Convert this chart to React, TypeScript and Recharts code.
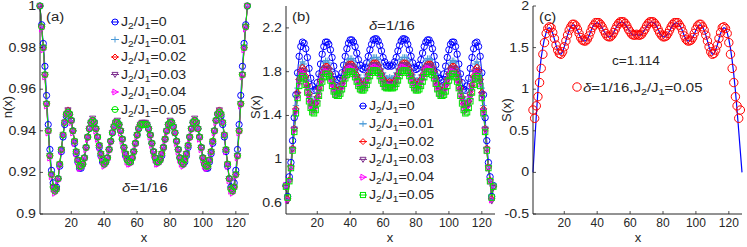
import { ComposedChart, Line, XAxis, YAxis } from 'recharts';

const FONT = '"Liberation Sans", Arial, Helvetica, sans-serif';
const INK = '#262626';

// x axis shared by all three panels
const X_DOMAIN = [1, 128];
const X_TICKS = [20, 40, 60, 80, 100, 120];
const sites = Array.from({ length: 127 }, (_, i) => i + 1);
const fitSites = Array.from({ length: 128 }, (_, i) => i + 1);

const ratioLabels = ['0', '0.01', '0.02', '0.03', '0.04', '0.05'];

// (a) n(x)
const N_DOMAIN = [0.9, 1];
const N_TICKS = [0.9, 0.92, 0.94, 0.96, 0.98, 1];

const nJ0 = [
  1.000, 0.991, 0.982, 0.971, 0.957, 0.943, 0.931, 0.921, 0.915, 0.912,
  0.913, 0.917, 0.923, 0.930, 0.937, 0.943, 0.947, 0.949, 0.948, 0.945,
  0.940, 0.934, 0.929, 0.925, 0.922, 0.922, 0.924, 0.927, 0.932, 0.937,
  0.941, 0.944, 0.945, 0.944, 0.941, 0.937, 0.932, 0.928, 0.925, 0.924,
  0.925, 0.927, 0.931, 0.935, 0.939, 0.942, 0.944, 0.944, 0.943, 0.940,
  0.936, 0.932, 0.928, 0.926, 0.925, 0.925, 0.927, 0.930, 0.934, 0.938,
  0.941, 0.943, 0.943, 0.943, 0.943, 0.943, 0.941, 0.938, 0.934, 0.930,
  0.927, 0.925, 0.925, 0.926, 0.928, 0.932, 0.936, 0.940, 0.943, 0.944,
  0.944, 0.942, 0.939, 0.935, 0.931, 0.927, 0.925, 0.924, 0.925, 0.928,
  0.932, 0.937, 0.941, 0.944, 0.945, 0.944, 0.941, 0.937, 0.932, 0.927,
  0.924, 0.922, 0.922, 0.925, 0.929, 0.934, 0.940, 0.945, 0.948, 0.949,
  0.947, 0.943, 0.937, 0.930, 0.923, 0.917, 0.913, 0.912, 0.915, 0.921,
  0.931, 0.943, 0.957, 0.971, 0.982, 0.991, 1.000,
];
const nJ1 = [
  1.000, 0.990, 0.980, 0.968, 0.954, 0.941, 0.929, 0.919, 0.913, 0.911,
  0.912, 0.917, 0.924, 0.931, 0.938, 0.944, 0.948, 0.949, 0.948, 0.945,
  0.940, 0.935, 0.930, 0.926, 0.923, 0.923, 0.924, 0.927, 0.932, 0.937,
  0.941, 0.944, 0.945, 0.944, 0.941, 0.937, 0.933, 0.929, 0.926, 0.924,
  0.925, 0.927, 0.931, 0.935, 0.939, 0.942, 0.944, 0.944, 0.943, 0.940,
  0.936, 0.932, 0.929, 0.926, 0.925, 0.925, 0.927, 0.930, 0.934, 0.938,
  0.941, 0.943, 0.943, 0.943, 0.943, 0.943, 0.941, 0.938, 0.934, 0.930,
  0.927, 0.925, 0.925, 0.926, 0.929, 0.932, 0.936, 0.940, 0.943, 0.944,
  0.944, 0.942, 0.939, 0.935, 0.931, 0.927, 0.925, 0.924, 0.926, 0.929,
  0.933, 0.937, 0.941, 0.944, 0.945, 0.944, 0.941, 0.937, 0.932, 0.927,
  0.924, 0.923, 0.923, 0.926, 0.930, 0.935, 0.940, 0.945, 0.948, 0.949,
  0.948, 0.944, 0.938, 0.931, 0.924, 0.917, 0.912, 0.911, 0.913, 0.919,
  0.929, 0.941, 0.954, 0.968, 0.980, 0.990, 1.000,
];
const nJ2 = [
  1.000, 0.990, 0.980, 0.967, 0.953, 0.940, 0.928, 0.919, 0.913, 0.911,
  0.912, 0.917, 0.924, 0.931, 0.938, 0.944, 0.948, 0.950, 0.948, 0.945,
  0.940, 0.935, 0.930, 0.926, 0.923, 0.923, 0.924, 0.927, 0.932, 0.937,
  0.941, 0.944, 0.945, 0.944, 0.941, 0.937, 0.933, 0.929, 0.926, 0.924,
  0.925, 0.927, 0.931, 0.935, 0.939, 0.942, 0.944, 0.944, 0.943, 0.940,
  0.936, 0.932, 0.929, 0.926, 0.925, 0.925, 0.927, 0.930, 0.934, 0.938,
  0.941, 0.943, 0.943, 0.943, 0.943, 0.943, 0.941, 0.938, 0.934, 0.930,
  0.927, 0.925, 0.925, 0.926, 0.929, 0.932, 0.936, 0.940, 0.943, 0.944,
  0.944, 0.942, 0.939, 0.935, 0.931, 0.927, 0.925, 0.924, 0.926, 0.929,
  0.933, 0.937, 0.941, 0.944, 0.945, 0.944, 0.941, 0.937, 0.932, 0.927,
  0.924, 0.923, 0.923, 0.926, 0.930, 0.935, 0.940, 0.945, 0.948, 0.950,
  0.948, 0.944, 0.938, 0.931, 0.924, 0.917, 0.912, 0.911, 0.913, 0.919,
  0.928, 0.940, 0.953, 0.967, 0.980, 0.990, 1.000,
];
const nJ3 = [
  1.000, 0.990, 0.980, 0.967, 0.953, 0.940, 0.928, 0.919, 0.913, 0.911,
  0.912, 0.917, 0.924, 0.931, 0.938, 0.944, 0.948, 0.950, 0.948, 0.945,
  0.940, 0.935, 0.930, 0.926, 0.923, 0.923, 0.924, 0.927, 0.932, 0.937,
  0.941, 0.944, 0.946, 0.944, 0.941, 0.937, 0.933, 0.929, 0.926, 0.924,
  0.925, 0.927, 0.931, 0.935, 0.939, 0.942, 0.944, 0.945, 0.943, 0.940,
  0.936, 0.932, 0.929, 0.926, 0.925, 0.925, 0.927, 0.930, 0.934, 0.938,
  0.941, 0.943, 0.944, 0.944, 0.944, 0.943, 0.941, 0.938, 0.934, 0.930,
  0.927, 0.925, 0.925, 0.926, 0.929, 0.932, 0.936, 0.940, 0.943, 0.945,
  0.944, 0.942, 0.939, 0.935, 0.931, 0.927, 0.925, 0.924, 0.926, 0.929,
  0.933, 0.937, 0.941, 0.944, 0.946, 0.944, 0.941, 0.937, 0.932, 0.927,
  0.924, 0.923, 0.923, 0.926, 0.930, 0.935, 0.940, 0.945, 0.948, 0.950,
  0.948, 0.944, 0.938, 0.931, 0.924, 0.917, 0.912, 0.911, 0.913, 0.919,
  0.928, 0.940, 0.953, 0.967, 0.980, 0.990, 1.000,
];
const nJ4 = [
  1.000, 0.989, 0.979, 0.966, 0.952, 0.939, 0.927, 0.918, 0.912, 0.910,
  0.911, 0.916, 0.923, 0.930, 0.938, 0.944, 0.948, 0.949, 0.948, 0.944,
  0.939, 0.934, 0.929, 0.925, 0.922, 0.922, 0.923, 0.926, 0.931, 0.936,
  0.941, 0.944, 0.945, 0.944, 0.940, 0.936, 0.932, 0.928, 0.925, 0.923,
  0.924, 0.926, 0.930, 0.934, 0.939, 0.942, 0.944, 0.944, 0.942, 0.939,
  0.935, 0.931, 0.928, 0.925, 0.924, 0.924, 0.926, 0.929, 0.933, 0.937,
  0.941, 0.943, 0.943, 0.943, 0.943, 0.943, 0.941, 0.937, 0.933, 0.929,
  0.926, 0.924, 0.924, 0.925, 0.928, 0.931, 0.935, 0.939, 0.942, 0.944,
  0.944, 0.942, 0.939, 0.934, 0.930, 0.926, 0.924, 0.923, 0.925, 0.928,
  0.932, 0.936, 0.940, 0.944, 0.945, 0.944, 0.941, 0.936, 0.931, 0.926,
  0.923, 0.922, 0.922, 0.925, 0.929, 0.934, 0.939, 0.944, 0.948, 0.949,
  0.948, 0.944, 0.938, 0.930, 0.923, 0.916, 0.911, 0.910, 0.912, 0.918,
  0.927, 0.939, 0.952, 0.966, 0.979, 0.989, 1.000,
];
const nJ5 = [
  1.000, 0.990, 0.980, 0.967, 0.953, 0.940, 0.928, 0.919, 0.913, 0.911,
  0.912, 0.917, 0.924, 0.931, 0.938, 0.944, 0.948, 0.949, 0.948, 0.945,
  0.940, 0.935, 0.930, 0.926, 0.923, 0.923, 0.924, 0.927, 0.932, 0.937,
  0.941, 0.944, 0.945, 0.944, 0.941, 0.937, 0.933, 0.929, 0.926, 0.924,
  0.925, 0.927, 0.931, 0.935, 0.939, 0.942, 0.944, 0.944, 0.943, 0.940,
  0.936, 0.932, 0.929, 0.926, 0.925, 0.925, 0.927, 0.930, 0.934, 0.938,
  0.941, 0.943, 0.943, 0.943, 0.943, 0.943, 0.941, 0.938, 0.934, 0.930,
  0.927, 0.925, 0.925, 0.926, 0.929, 0.932, 0.936, 0.940, 0.943, 0.944,
  0.944, 0.942, 0.939, 0.935, 0.931, 0.927, 0.925, 0.924, 0.926, 0.929,
  0.933, 0.937, 0.941, 0.944, 0.945, 0.944, 0.941, 0.937, 0.932, 0.927,
  0.924, 0.923, 0.923, 0.926, 0.930, 0.935, 0.940, 0.945, 0.948, 0.949,
  0.948, 0.944, 0.938, 0.931, 0.924, 0.917, 0.912, 0.911, 0.913, 0.919,
  0.928, 0.940, 0.953, 0.967, 0.980, 0.990, 1.000,
];

// (b) S(x)
const SB_DOMAIN = [0.5, 2.4];
const SB_TICKS = [0.6, 1, 1.4, 1.8, 2.2];

const sJ0 = [
  0.76, 0.66, 0.84, 0.97, 1.17, 1.38, 1.59, 1.79, 1.94, 2.03,
  2.07, 2.06, 2.01, 1.93, 1.83, 1.74, 1.67, 1.63, 1.64, 1.70,
  1.78, 1.87, 1.96, 2.03, 2.07, 2.07, 2.05, 2.00, 1.93, 1.85,
  1.78, 1.73, 1.72, 1.74, 1.79, 1.86, 1.94, 2.01, 2.06, 2.09,
  2.09, 2.07, 2.03, 1.97, 1.91, 1.86, 1.83, 1.82, 1.84, 1.88,
  1.94, 2.00, 2.05, 2.09, 2.10, 2.10, 2.08, 2.04, 1.99, 1.93,
  1.89, 1.86, 1.85, 1.86, 1.85, 1.86, 1.89, 1.93, 1.99, 2.04,
  2.08, 2.10, 2.10, 2.09, 2.05, 2.00, 1.94, 1.88, 1.84, 1.82,
  1.83, 1.86, 1.91, 1.97, 2.03, 2.07, 2.09, 2.09, 2.06, 2.01,
  1.94, 1.86, 1.79, 1.74, 1.72, 1.73, 1.78, 1.85, 1.93, 2.00,
  2.05, 2.07, 2.07, 2.03, 1.96, 1.87, 1.78, 1.70, 1.64, 1.63,
  1.67, 1.74, 1.83, 1.93, 2.01, 2.06, 2.07, 2.03, 1.94, 1.79,
  1.59, 1.38, 1.17, 0.97, 0.84, 0.66, 0.76,
];
const sJ1 = [
  0.75, 0.63, 0.81, 0.94, 1.11, 1.30, 1.49, 1.65, 1.78, 1.86,
  1.89, 1.87, 1.81, 1.73, 1.64, 1.57, 1.53, 1.52, 1.55, 1.61,
  1.69, 1.77, 1.83, 1.88, 1.90, 1.90, 1.88, 1.83, 1.78, 1.72,
  1.68, 1.66, 1.66, 1.68, 1.73, 1.78, 1.84, 1.88, 1.91, 1.92,
  1.92, 1.90, 1.86, 1.82, 1.77, 1.74, 1.72, 1.72, 1.74, 1.77,
  1.82, 1.87, 1.90, 1.93, 1.93, 1.93, 1.91, 1.87, 1.83, 1.79,
  1.76, 1.74, 1.74, 1.75, 1.74, 1.74, 1.76, 1.79, 1.83, 1.87,
  1.91, 1.93, 1.93, 1.93, 1.90, 1.87, 1.82, 1.77, 1.74, 1.72,
  1.72, 1.74, 1.77, 1.82, 1.86, 1.90, 1.92, 1.92, 1.91, 1.88,
  1.84, 1.78, 1.73, 1.68, 1.66, 1.66, 1.68, 1.72, 1.78, 1.83,
  1.88, 1.90, 1.90, 1.88, 1.83, 1.77, 1.69, 1.61, 1.55, 1.52,
  1.53, 1.57, 1.64, 1.73, 1.81, 1.87, 1.89, 1.86, 1.78, 1.65,
  1.49, 1.30, 1.11, 0.94, 0.81, 0.63, 0.75,
];
const sJ2 = [
  0.75, 0.64, 0.81, 0.93, 1.10, 1.28, 1.46, 1.61, 1.73, 1.81,
  1.84, 1.82, 1.76, 1.68, 1.60, 1.53, 1.49, 1.48, 1.51, 1.57,
  1.65, 1.72, 1.78, 1.83, 1.85, 1.85, 1.83, 1.78, 1.73, 1.68,
  1.64, 1.63, 1.63, 1.65, 1.69, 1.74, 1.80, 1.84, 1.87, 1.87,
  1.87, 1.85, 1.82, 1.77, 1.73, 1.70, 1.68, 1.68, 1.70, 1.73,
  1.78, 1.82, 1.86, 1.88, 1.88, 1.88, 1.86, 1.82, 1.78, 1.74,
  1.71, 1.70, 1.70, 1.71, 1.70, 1.70, 1.71, 1.74, 1.78, 1.82,
  1.86, 1.88, 1.88, 1.88, 1.86, 1.82, 1.78, 1.73, 1.70, 1.68,
  1.68, 1.70, 1.73, 1.77, 1.82, 1.85, 1.87, 1.87, 1.87, 1.84,
  1.80, 1.74, 1.69, 1.65, 1.63, 1.63, 1.64, 1.68, 1.73, 1.78,
  1.83, 1.85, 1.85, 1.83, 1.78, 1.72, 1.65, 1.57, 1.51, 1.48,
  1.49, 1.53, 1.60, 1.68, 1.76, 1.82, 1.84, 1.81, 1.73, 1.61,
  1.46, 1.28, 1.10, 0.93, 0.81, 0.64, 0.75,
];
const sJ3 = [
  0.74, 0.62, 0.80, 0.92, 1.09, 1.27, 1.44, 1.59, 1.71, 1.78,
  1.81, 1.79, 1.73, 1.65, 1.57, 1.51, 1.47, 1.46, 1.49, 1.55,
  1.62, 1.69, 1.76, 1.80, 1.83, 1.83, 1.81, 1.76, 1.71, 1.66,
  1.62, 1.61, 1.61, 1.63, 1.67, 1.72, 1.78, 1.82, 1.85, 1.85,
  1.85, 1.83, 1.80, 1.75, 1.71, 1.68, 1.66, 1.66, 1.68, 1.71,
  1.76, 1.80, 1.84, 1.86, 1.86, 1.86, 1.84, 1.80, 1.76, 1.72,
  1.69, 1.68, 1.68, 1.69, 1.68, 1.68, 1.69, 1.72, 1.76, 1.80,
  1.84, 1.86, 1.86, 1.86, 1.84, 1.80, 1.76, 1.71, 1.68, 1.66,
  1.66, 1.68, 1.71, 1.75, 1.80, 1.83, 1.85, 1.85, 1.85, 1.82,
  1.78, 1.72, 1.67, 1.63, 1.61, 1.61, 1.62, 1.66, 1.71, 1.76,
  1.81, 1.83, 1.83, 1.80, 1.76, 1.69, 1.62, 1.55, 1.49, 1.46,
  1.47, 1.51, 1.57, 1.65, 1.73, 1.79, 1.81, 1.78, 1.71, 1.59,
  1.44, 1.27, 1.09, 0.92, 0.80, 0.62, 0.74,
];
const sJ4 = [
  0.76, 0.63, 0.80, 0.92, 1.08, 1.26, 1.43, 1.57, 1.69, 1.76,
  1.79, 1.77, 1.71, 1.63, 1.55, 1.49, 1.45, 1.44, 1.47, 1.53,
  1.60, 1.67, 1.73, 1.78, 1.80, 1.80, 1.78, 1.74, 1.69, 1.64,
  1.60, 1.59, 1.59, 1.61, 1.65, 1.70, 1.76, 1.80, 1.82, 1.83,
  1.83, 1.81, 1.77, 1.73, 1.69, 1.66, 1.64, 1.64, 1.66, 1.70,
  1.74, 1.78, 1.81, 1.83, 1.84, 1.84, 1.82, 1.78, 1.74, 1.70,
  1.67, 1.66, 1.66, 1.67, 1.66, 1.66, 1.67, 1.70, 1.74, 1.78,
  1.82, 1.84, 1.84, 1.83, 1.81, 1.78, 1.74, 1.70, 1.66, 1.64,
  1.64, 1.66, 1.69, 1.73, 1.77, 1.81, 1.83, 1.83, 1.82, 1.80,
  1.76, 1.70, 1.65, 1.61, 1.59, 1.59, 1.60, 1.64, 1.69, 1.74,
  1.78, 1.80, 1.80, 1.78, 1.73, 1.67, 1.60, 1.53, 1.47, 1.44,
  1.45, 1.49, 1.55, 1.63, 1.71, 1.77, 1.79, 1.76, 1.69, 1.57,
  1.43, 1.26, 1.08, 0.92, 0.80, 0.63, 0.76,
];
const sJ5 = [
  0.75, 0.65, 0.80, 0.92, 1.08, 1.25, 1.42, 1.56, 1.67, 1.74,
  1.76, 1.74, 1.68, 1.61, 1.53, 1.47, 1.43, 1.42, 1.45, 1.51,
  1.58, 1.65, 1.71, 1.75, 1.78, 1.78, 1.76, 1.72, 1.67, 1.62,
  1.59, 1.58, 1.58, 1.60, 1.64, 1.69, 1.74, 1.77, 1.80, 1.80,
  1.80, 1.78, 1.75, 1.71, 1.67, 1.64, 1.63, 1.63, 1.65, 1.68,
  1.72, 1.76, 1.79, 1.81, 1.81, 1.81, 1.79, 1.76, 1.72, 1.69,
  1.66, 1.65, 1.65, 1.66, 1.65, 1.65, 1.66, 1.69, 1.72, 1.76,
  1.79, 1.81, 1.81, 1.81, 1.79, 1.76, 1.72, 1.68, 1.65, 1.63,
  1.63, 1.64, 1.67, 1.71, 1.75, 1.78, 1.80, 1.80, 1.80, 1.77,
  1.74, 1.69, 1.64, 1.60, 1.58, 1.58, 1.59, 1.62, 1.67, 1.72,
  1.76, 1.78, 1.78, 1.75, 1.71, 1.65, 1.58, 1.51, 1.45, 1.42,
  1.43, 1.47, 1.53, 1.61, 1.68, 1.74, 1.76, 1.74, 1.67, 1.56,
  1.42, 1.25, 1.08, 0.92, 0.80, 0.65, 0.75,
];

// (c) S(x) for delta=1/16, J2/J1=0.05 and the CFT fit
const SC_DOMAIN = [-0.5, 2];
const SC_TICKS = [-0.5, 0, 0.5, 1, 1.5, 2];

const sDmrg = [
  0.75, 0.65, 0.80, 0.91, 1.08, 1.25, 1.42, 1.56, 1.67, 1.73,
  1.75, 1.74, 1.68, 1.61, 1.53, 1.47, 1.43, 1.42, 1.45, 1.51,
  1.58, 1.65, 1.71, 1.75, 1.78, 1.78, 1.76, 1.72, 1.67, 1.62,
  1.59, 1.58, 1.58, 1.60, 1.64, 1.69, 1.74, 1.77, 1.80, 1.80,
  1.80, 1.78, 1.75, 1.71, 1.67, 1.64, 1.63, 1.63, 1.65, 1.68,
  1.72, 1.76, 1.79, 1.81, 1.81, 1.81, 1.79, 1.76, 1.72, 1.69,
  1.66, 1.65, 1.65, 1.66, 1.65, 1.65, 1.66, 1.69, 1.72, 1.76,
  1.79, 1.81, 1.81, 1.81, 1.79, 1.76, 1.72, 1.68, 1.65, 1.63,
  1.63, 1.64, 1.67, 1.71, 1.75, 1.78, 1.80, 1.80, 1.80, 1.77,
  1.74, 1.69, 1.64, 1.60, 1.58, 1.58, 1.59, 1.62, 1.67, 1.72,
  1.76, 1.78, 1.78, 1.75, 1.71, 1.65, 1.58, 1.51, 1.45, 1.42,
  1.43, 1.47, 1.53, 1.61, 1.68, 1.74, 1.75, 1.73, 1.67, 1.56,
  1.42, 1.25, 1.08, 0.91, 0.80, 0.65, 0.75,
];
const sFit = [
  0.00, 0.35, 0.68, 0.98, 1.21, 1.38, 1.51, 1.61, 1.68, 1.73,
  1.74, 1.72, 1.67, 1.60, 1.53, 1.47, 1.43, 1.42, 1.45, 1.51,
  1.58, 1.65, 1.71, 1.75, 1.77, 1.77, 1.75, 1.71, 1.66, 1.62,
  1.59, 1.58, 1.58, 1.60, 1.64, 1.69, 1.74, 1.77, 1.79, 1.80,
  1.79, 1.77, 1.74, 1.70, 1.67, 1.64, 1.63, 1.63, 1.65, 1.68,
  1.72, 1.76, 1.79, 1.80, 1.81, 1.80, 1.78, 1.75, 1.72, 1.69,
  1.66, 1.65, 1.65, 1.66, 1.65, 1.65, 1.66, 1.69, 1.72, 1.75,
  1.78, 1.80, 1.81, 1.80, 1.79, 1.76, 1.72, 1.68, 1.65, 1.63,
  1.63, 1.64, 1.67, 1.70, 1.74, 1.77, 1.79, 1.80, 1.79, 1.77,
  1.74, 1.69, 1.64, 1.60, 1.58, 1.58, 1.59, 1.62, 1.66, 1.71,
  1.75, 1.77, 1.77, 1.75, 1.71, 1.65, 1.58, 1.51, 1.45, 1.42,
  1.43, 1.47, 1.53, 1.60, 1.67, 1.72, 1.74, 1.73, 1.68, 1.60,
  1.49, 1.35, 1.18, 0.98, 0.75, 0.50, 0.25, 0.00,
];

type Kind = 'circle' | 'plus' | 'diamond' | 'tdown' | 'tright' | 'square';

const STYLE_A: { color: string; kind: Kind }[] = [
  { color: '#0000ff', kind: 'circle' },
  { color: '#4a9ad8', kind: 'plus' },
  { color: '#ff0000', kind: 'diamond' },
  { color: '#7e2f8e', kind: 'tdown' },
  { color: '#ff00ff', kind: 'tright' },
  { color: '#00e600', kind: 'circle' },
];
const STYLE_B: { color: string; kind: Kind }[] = [
  { color: '#0000ff', kind: 'circle' },
  { color: '#4a9ad8', kind: 'plus' },
  { color: '#ff0000', kind: 'diamond' },
  { color: '#7e2f8e', kind: 'tdown' },
  { color: '#ff00ff', kind: 'tright' },
  { color: '#00e600', kind: 'square' },
];

const seriesA = [nJ0, nJ1, nJ2, nJ3, nJ4, nJ5];
const seriesB = [sJ0, sJ1, sJ2, sJ3, sJ4, sJ5];

const toRows = (list: number[][]) =>
  sites.map((x, i) => {
    const row: any = { x };
    list.forEach((s, k) => (row['s' + k] = s[i]));
    return row;
  });

const rowsA = toRows(seriesA);
const rowsB = toRows(seriesB);
const rowsC = fitSites.map((x, i) => ({ x, fit: sFit[i], dmrg: i < sDmrg.length ? sDmrg[i] : null }));

function Marker({ kind, cx, cy, color, s }: { kind: Kind; cx: number; cy: number; color: string; s: number }) {
  const common = { fill: 'none', stroke: color, strokeWidth: 1 };
  switch (kind) {
    case 'circle':
      return <circle cx={cx} cy={cy} r={s} {...common} />;
    case 'plus':
      return <path d={`M${cx - s},${cy}H${cx + s}M${cx},${cy - s}V${cy + s}`} {...common} />;
    case 'diamond':
      return <polygon points={`${cx},${cy - s} ${cx + s},${cy} ${cx},${cy + s} ${cx - s},${cy}`} {...common} />;
    case 'tdown':
      return <polygon points={`${cx - s},${cy - s * 0.7} ${cx + s},${cy - s * 0.7} ${cx},${cy + s}`} {...common} />;
    case 'tright':
      return <polygon points={`${cx - s * 0.7},${cy - s} ${cx - s * 0.7},${cy + s} ${cx + s},${cy}`} {...common} />;
    default:
      return <rect x={cx - s * 0.85} y={cy - s * 0.85} width={s * 1.7} height={s * 1.7} {...common} />;
  }
}

const dotFor = (kind: Kind, color: string, s: number) => (p: any) => {
  if (p.value == null || p.cy == null) return <g key={`e${p.index}`} />;
  return <Marker key={`m${p.index}`} kind={kind} cx={p.cx} cy={p.cy} color={color} s={s} />;
};

// text stretched horizontally like the original figure
function WideText({ x, y, sx = 1, size, anchor = 'start', children }: any) {
  return (
    <text transform={`translate(${x},${y}) scale(${sx},1)`} textAnchor={anchor} fontSize={size}
      fontFamily={FONT} fill={INK}>
      {children}
    </text>
  );
}

const BottomTick = ({ x, y, payload }: any) => (
  <g>
    <line x1={x} y1={y} x2={x} y2={y - 3} stroke={INK} strokeWidth={0.8} />
    <text x={x} y={y + 13} textAnchor="middle" fontSize={12} fontFamily={FONT} fill={INK}>
      {payload.value}
    </text>
  </g>
);
const TopTick = ({ x, y }: any) => <line x1={x} y1={y} x2={x} y2={y + 3} stroke={INK} strokeWidth={0.8} />;
const LeftTick = ({ x, y, payload }: any) => (
  <g>
    <line x1={x} y1={y} x2={x + 3} y2={y} stroke={INK} strokeWidth={0.8} />
    <WideText x={x - 4} y={y + 4} sx={1.18} size={12} anchor="end">{String(payload.value)}</WideText>
  </g>
);
const RightTick = ({ x, y }: any) => <line x1={x} y1={y} x2={x - 3} y2={y} stroke={INK} strokeWidth={0.8} />;

function Panel({ left, rows, yDomain, yTicks, children }: any) {
  return (
    <div style={{ position: 'absolute', left, top: 0 }}>
      <ComposedChart width={252} height={247} data={rows} margin={{ top: 6, right: 3, bottom: 0, left: 0 }}>
        <XAxis dataKey="x" type="number" domain={X_DOMAIN} ticks={X_TICKS} interval={0} height={33}
          tickSize={0} tickMargin={0} tickLine={false} axisLine={{ stroke: INK }} tick={<BottomTick />} />
        <XAxis xAxisId="top" dataKey="x" type="number" orientation="top" domain={X_DOMAIN} ticks={X_TICKS}
          interval={0} height={0} tickSize={0} tickMargin={0} tickLine={false} allowDataOverflow
          axisLine={{ stroke: INK }} tick={<TopTick />} />
        <YAxis type="number" domain={yDomain} ticks={yTicks} interval={0} width={40} tickSize={0} tickMargin={0}
          tickLine={false} axisLine={{ stroke: INK }} tick={<LeftTick />} />
        <YAxis yAxisId="right" type="number" orientation="right" domain={yDomain} ticks={yTicks} interval={0}
          width={0} tickSize={0} tickMargin={0} tickLine={false} allowDataOverflow axisLine={{ stroke: INK }}
          tick={<RightTick />} />
        {children}
      </ComposedChart>
    </div>
  );
}

function Ratio({ x, y, value, size = 12, sx = 1.18 }: any) {
  return (
    <WideText x={x} y={y} sx={sx} size={size}>
      J<tspan dy={3} fontSize={size * 0.72}>2</tspan>
      <tspan dy={-3}>/J</tspan>
      <tspan dy={3} fontSize={size * 0.72}>1</tspan>
      <tspan dy={-3}>={value}</tspan>
    </WideText>
  );
}

function LegendBox({ x, y0, step, styles }: any) {
  return (
    <g>
      {styles.map((st: any, k: number) => {
        const y = y0 + k * step;
        return (
          <g key={k}>
            <line x1={x - 4} y1={y} x2={x + 4} y2={y} stroke={st.color} strokeWidth={1} />
            <Marker kind={st.kind} cx={x} cy={y} color={st.color} s={3} />
            <Ratio x={x + 6} y={y + 4} value={ratioLabels[k]} />
          </g>
        );
      })}
    </g>
  );
}

const Delta = ({ x, y }: any) => (
  <WideText x={x} y={y} sx={1.1} size={13.5}>
    <tspan fontStyle="italic">δ</tspan>=1/16
  </WideText>
);

export default function App() {
  const label = { fontSize: 13, fontFamily: FONT, fill: INK };
  return (
    <div style={{ position: 'fixed', left: 0, top: 0, width: 747, height: 247, background: '#fff' }}>
      <Panel left={0} rows={rowsA} yDomain={N_DOMAIN} yTicks={N_TICKS}>
        {STYLE_A.map((st, k) => (
          <Line key={k} dataKey={'s' + k} type="linear" stroke={st.color} strokeWidth={1}
            dot={dotFor(st.kind, st.color, 3.1)} activeDot={false} isAnimationActive={false} />
        ))}
      </Panel>
      <Panel left={246} rows={rowsB} yDomain={SB_DOMAIN} yTicks={SB_TICKS}>
        {STYLE_B.map((st, k) => (
          <Line key={k} dataKey={'s' + k} type="linear" stroke={st.color} strokeWidth={1}
            dot={dotFor(st.kind, st.color, 3.2)} activeDot={false} isAnimationActive={false} />
        ))}
      </Panel>
      <Panel left={493} rows={rowsC} yDomain={SC_DOMAIN} yTicks={SC_TICKS}>
        <Line dataKey="dmrg" type="linear" stroke="none" dot={dotFor('circle', '#ff0000', 4.2)}
          activeDot={false} isAnimationActive={false} />
        <Line dataKey="fit" type="linear" stroke="#0000ff" strokeWidth={1.2} dot={false}
          activeDot={false} isAnimationActive={false} />
      </Panel>
      <svg width={747} height={247} style={{ position: 'absolute', left: 0, top: 0, pointerEvents: 'none' }}>
        <WideText x={46} y={21} sx={1.1} size={13.5}>(a)</WideText>
        <WideText x={292} y={21} sx={1.1} size={13.5}>(b)</WideText>
        <WideText x={539} y={21} sx={1.1} size={13.5}>(c)</WideText>
        <LegendBox x={115} y0={22} step={17.5} styles={STYLE_A} />
        <LegendBox x={363} y0={106} step={17.8} styles={STYLE_B} />
        <Delta x={122} y={192} />
        <Delta x={369} y={30} />
        <WideText x={612} y={65} sx={1.05} size={13}>c=1.114</WideText>
        <circle cx={577} cy={87} r={4.2} fill="none" stroke="#ff0000" strokeWidth={1} />
        <WideText x={583} y={92} sx={1.2} size={12.5}>
          <tspan fontStyle="italic">δ</tspan>=1/16,J<tspan dy={3} fontSize={9}>2</tspan>
          <tspan dy={-3}>/J</tspan>
          <tspan dy={3} fontSize={9}>1</tspan>
          <tspan dy={-3}>=0.05</tspan>
        </WideText>
        <text x={12} y={107} textAnchor="middle" transform="rotate(-90 12 107)" {...label}>n(x)</text>
        <text x={260} y={107} textAnchor="middle" transform="rotate(-90 260 107)" {...label}>S(x)</text>
        <text x={511} y={110} textAnchor="middle" transform="rotate(-90 511 110)" {...label}>S(x)</text>
        <text x={144} y={242} textAnchor="middle" {...label}>x</text>
        <text x={390} y={242} textAnchor="middle" {...label}>x</text>
        <text x={638} y={242} textAnchor="middle" {...label}>x</text>
      </svg>
    </div>
  );
}
